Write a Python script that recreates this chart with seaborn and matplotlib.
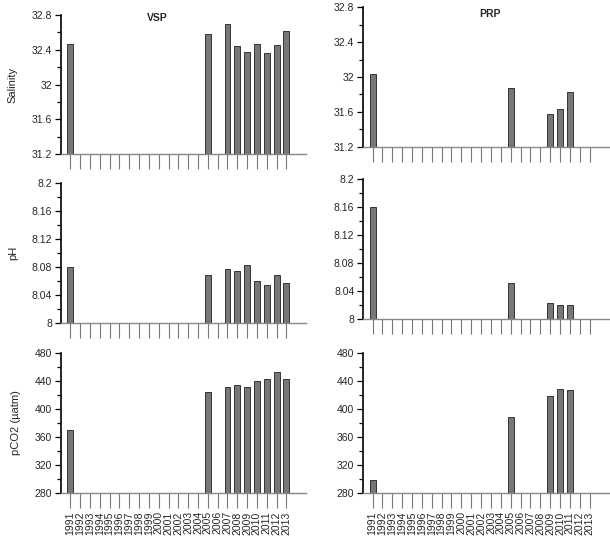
import matplotlib
matplotlib.use("Agg")
import matplotlib.pyplot as plt
import matplotlib.ticker as mticker
import seaborn as sns
import pandas as pd
import numpy as np

years = list(range(1991, 2014))

vsp_years = [1991, 2005, 2007, 2008, 2009, 2010, 2011, 2012, 2013]
vsp_salinity = [32.47, 32.58, 32.70, 32.44, 32.37, 32.47, 32.36, 32.46, 32.61]
vsp_ph = [8.080, 8.069, 8.078, 8.075, 8.083, 8.060, 8.054, 8.069, 8.058]
vsp_pco2 = [370, 424, 431, 434, 431, 439, 443, 452, 443]

prp_years = [1991, 2005, 2009, 2010, 2011]
prp_salinity = [32.04, 31.87, 31.58, 31.63, 31.83]
prp_ph = [8.160, 8.051, 8.022, 8.020, 8.019]
prp_pco2 = [299, 389, 418, 428, 427]

titles = ["VSP", "PRP"]
ylabels = ["Salinity", "pH", "pCO2 (\u00b5atm)"]
ylims = [(31.2, 32.8), (8.0, 8.2), (280, 480)]
major_steps = [0.4, 0.04, 40]

sns.set_theme(style="white")
plt.rcParams['font.family'] = ['Liberation Sans', 'DejaVu Sans']

fig = plt.figure(figsize=(6.1, 5.41), dpi=100)

positions = {
    (0, 0): [0.0992, 0.7153, 0.4025, 0.2570],
    (0, 1): [0.5946, 0.7288, 0.4043, 0.2577],
    (1, 0): [0.0992, 0.4024, 0.4025, 0.2588],
    (1, 1): [0.5946, 0.4109, 0.4043, 0.2577],
    (2, 0): [0.0992, 0.0882, 0.4025, 0.2602],
    (2, 1): [0.5946, 0.0882, 0.4043, 0.2602],
}

data = {
    0: (vsp_years, [vsp_salinity, vsp_ph, vsp_pco2]),
    1: (prp_years, [prp_salinity, prp_ph, prp_pco2]),
}
title_pos = {0: (0.393, 0.975), 1: (0.516, 0.95)}

for r in range(3):
    for c in range(2):
        ax = fig.add_axes(positions[(r, c)])
        yrs, series = data[c]
        df = pd.DataFrame({"year": yrs, "value": series[r]})
        sns.barplot(data=df, x="year", y="value", native_scale=True, width=0.6,
                    color="#777777", edgecolor="#333333", linewidth=0.7,
                    saturation=1, ax=ax, errorbar=None)
        ax.set_xlim(1990.0, 2015.0)
        ax.set_ylim(*ylims[r])
        step = major_steps[r]
        ax.yaxis.set_major_locator(mticker.MultipleLocator(step))
        ax.yaxis.set_minor_locator(mticker.MultipleLocator(step / 2))
        ax.yaxis.set_major_formatter(mticker.FuncFormatter(lambda v, p: f"{round(v, 4):g}"))
        ax.set_xticks(years)
        if r == 2:
            ax.set_xticklabels([str(y) for y in years], rotation=90, fontsize=7.5)
        else:
            ax.set_xticklabels([])
        ax.tick_params(axis="x", which="major", direction="out", length=11,
                       width=0.8, color="#777777", pad=2, bottom=True)
        ax.tick_params(axis="y", which="major", direction="out", length=4,
                       width=0.9, color="black", labelsize=7.5, left=True, pad=2)
        ax.tick_params(axis="y", which="minor", direction="out", length=3,
                       width=0.9, color="black", left=True)
        for s in ["top", "right"]:
            ax.spines[s].set_visible(False)
        ax.spines["left"].set_color("black")
        ax.spines["left"].set_linewidth(1.2)
        ax.spines["bottom"].set_color("#888888")
        ax.spines["bottom"].set_linewidth(1.0)
        ax.set_xlabel("")
        if c == 0:
            ax.set_ylabel(ylabels[r], fontsize=8, labelpad=10)
        else:
            ax.set_ylabel("")
        if r == 0:
            tx, ty = title_pos[c]
            ax.text(tx, ty, titles[c], transform=ax.transAxes, ha="center",
                    va="center", fontsize=7.5, fontweight="bold")
        ax.grid(False)

fig.savefig("out.png", dpi=100)
